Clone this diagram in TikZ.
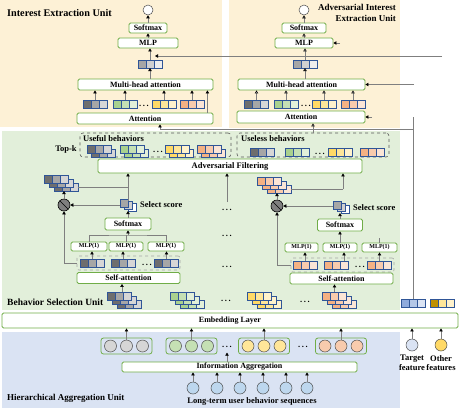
\documentclass[tikz,border=0pt]{standalone}
\usepackage{fontspec}
\setmainfont{Liberation Serif}
\usepackage{tikz}
\usetikzlibrary{arrows.meta, positioning}
\definecolor{Panel_Sand}{HTML}{FDF1D6}
\definecolor{Panel_Sage}{HTML}{E2EFDA}
\definecolor{Panel_Sky}{HTML}{DAE3F3}
\definecolor{Box_Green}{HTML}{70AD47}
\definecolor{Cell_Blue}{HTML}{2F5597}
\definecolor{Line_Gray}{HTML}{7F7F7F}
\definecolor{Dash_Gray}{HTML}{595959}
\definecolor{Gray_A}{HTML}{6E6E6E}
\definecolor{Gray_B}{HTML}{A6A6A6}
\definecolor{Gray_C}{HTML}{D6D6D6}
\definecolor{Mist_B}{HTML}{D0D0D0}
\definecolor{Mist_C}{HTML}{EDEDED}
\definecolor{Leaf_A}{HTML}{A9D18E}
\definecolor{Leaf_B}{HTML}{C5E0B4}
\definecolor{Leaf_C}{HTML}{E2F0D9}
\definecolor{Sun_A}{HTML}{FFD966}
\definecolor{Sun_B}{HTML}{FFE699}
\definecolor{Sun_C}{HTML}{FFF2CC}
\definecolor{Peach_A}{HTML}{F4B183}
\definecolor{Peach_B}{HTML}{F8CBAD}
\definecolor{Peach_C}{HTML}{FBE5D6}
\definecolor{Sky_A}{HTML}{8FAADC}
\definecolor{Sky_B}{HTML}{B4C7E7}
\definecolor{Sky_C}{HTML}{DAE3F3}
\definecolor{Gold_A}{HTML}{BF9000}
\definecolor{Seq_Blue}{HTML}{BDD7EE}

% spaced dots between vectors
\newcommand{\skipdots}{.\hspace{1.6pt}.\hspace{1.6pt}.}
% one embedding vector of three cells, named by its middle cell
\newcommand{\cellrow}[5]{%
  \node[cell, fill=#4] (#1) at (#2) {};
  \node[cell, fill=#3, left=0pt of #1] (#1-a) {};
  \node[cell, fill=#5, right=0pt of #1] (#1-c) {};}
% copies of a vector stacked down to the right
\newcommand{\cellstack}[7]{%
  \foreach \k in {#2,...,0}{%
    \begin{scope}[shift={(#3*\k,4*\k)}]\cellrow{#1-\k}{#4}{#5}{#6}{#7}\end{scope}}}
% select score squares
\newcommand{\scorestack}[2]{%
  \foreach \k/\c in {2/white,1/Mist_B,0/Gray_B}{%
    \begin{scope}[shift={(4*\k,2*\k)}]\node[cell, fill=\c] (#1-\k) at (#2) {};\end{scope}}}
% three balls in a rounded frame
\newcommand{\ballgroup}[3]{%
  \node[pool] (#1) at (#2) {};
  \foreach \dx [count=\i] in {-16,0,16} \node[ball, fill=#3] (#1-\i) at ([xshift=\dx pt]#1.center) {};}

\begin{document}
\begin{tikzpicture}[x=1pt, y=-1pt,
    box/.style={draw=Box_Green, fill=white, line width=0.8pt, rounded corners=1.5pt, inner sep=0pt, font=\bfseries\fontsize{8}{9}\selectfont},
    smallbox/.style={box, font=\bfseries\fontsize{6}{7}\selectfont},
    cell/.style={draw=Cell_Blue, line width=0.6pt, minimum size=8pt, inner sep=0pt, outer sep=0pt},
    wire/.style={draw=Line_Gray, line width=0.6pt},
    arr/.style={wire, -{Triangle[width=3.4pt,length=3pt,color=black]}},
    oarr/.style={wire, -{Triangle[width=3.4pt,length=3pt,color=black,fill=white]}},
    unittitle/.style={font=\bfseries\fontsize{9.5}{11}\selectfont, inner sep=0pt},
    lbl/.style={font=\bfseries\fontsize{8.5}{9.5}\selectfont, inner sep=0pt},
    pickbox/.style={draw=Dash_Gray, dashed, line width=0.6pt, rounded corners=3pt},
    rowbox/.style={draw=Gray_B, dashed, line width=0.6pt, rounded corners=2pt},
    pool/.style={draw=Box_Green, line width=0.8pt, rounded corners=2.5pt, minimum width=51pt, minimum height=16pt},
    ball/.style={circle, draw=black!70, line width=0.5pt, minimum size=12pt, inner sep=0pt},
    mul/.style={circle, draw=black, fill=Line_Gray, line width=0.6pt, minimum size=12pt, inner sep=0pt,
      path picture={\draw[black, line width=0.6pt] (path picture bounding box.north west) -- (path picture bounding box.south east);}}]
    \useasboundingbox (0,0) rectangle (460,408);
    % Unit panels
    \fill[Panel_Sand] (0,0) rectangle (222,127);
    \fill[Panel_Sand] (229,0) rectangle (400,128);
    \fill[Panel_Sage] (2,131) rectangle (400,310);
    \fill[Panel_Sky] (2,332) rectangle (400,408);
    \node[unittitle, anchor=west, font=\bfseries\fontsize{10.2}{12}\selectfont] (ieu-title) at (7,13) {Interest Extraction Unit};
    \node[unittitle, anchor=north east, align=right, font=\bfseries\fontsize{9}{11}\selectfont] (aie-title) at (396,4) {Adversarial Interest\\Extraction Unit};
    \node[unittitle, anchor=west] (bsu-title) at (7,302) {Behavior Selection Unit};
    \node[unittitle, anchor=west, font=\bfseries\fontsize{9}{11}\selectfont] (hau-title) at (7,398) {Hierarchical Aggregation Unit};

    % Interest extraction
    \node[ball, minimum size=10pt, fill=white] (ieu-out) at (148,10) {};
    \node[box, minimum width=38pt, minimum height=10pt] (ieu-soft) at (148,28) {Softmax};
    \node[box, minimum width=60pt, minimum height=10pt] (ieu-mlp) at (148,43) {MLP};
    \cellrow{ieu-h}{150,64}{Gray_B}{Mist_B}{Mist_C}
    \node[box, minimum width=135pt, minimum height=11pt] (ieu-mha) at (145.5,84.5) {Multi-head attention};
    \cellrow{ieu-g}{95,104}{Gray_A}{Gray_B}{Gray_C}
    \cellrow{ieu-l}{125,104}{Leaf_A}{Leaf_B}{Leaf_C}
    \node[lbl] (ieu-dots) at (144,106) {\skipdots};
    \cellrow{ieu-y}{164,104}{Sun_A}{Sun_B}{Sun_C}
    \cellrow{ieu-o}{192,104}{Peach_A}{Peach_B}{Peach_C}
    \node[box, minimum width=136pt, minimum height=11pt] (ieu-att) at (145,118.5) {Attention};
    \draw[arr] (ieu-soft.north) -- (ieu-out.south);
    \draw[arr] (ieu-mlp.north) -- (ieu-soft.south);
    \draw[arr] (ieu-h.north) -- (ieu-h.north |- ieu-mlp.south);
    \draw[arr] (ieu-mha.north -| ieu-h) -- (ieu-h.south);
    \foreach \v in {ieu-g, ieu-l, ieu-y, ieu-o} \draw[arr] (\v.north) -- (\v.north |- ieu-mha.south);
    \draw[arr] ([xshift=-6pt]ieu-att.north east) -- ([xshift=-6pt]ieu-mha.south east);
    \coordinate (oth-in) at (442,56);
    \coordinate (ieu-mlp-in) at (155,56);
    \draw[arr] (oth-in) -- (ieu-mlp-in);

    % Adversarial interest extraction
    \node[ball, minimum size=10pt, fill=white] (aie-out) at (304,10) {};
    \node[box, minimum width=44pt, minimum height=10pt] (aie-soft) at (304,28) {Softmax};
    \node[box, minimum width=58pt, minimum height=10pt] (aie-mlp) at (304,43) {MLP};
    \cellrow{aie-h}{305,64}{Gray_B}{Mist_B}{Mist_C}
    \node[box, minimum width=127pt, minimum height=11pt] (aie-mha) at (301.5,84.5) {Multi-head attention};
    \cellrow{aie-g}{256.5,104}{Gray_A}{Gray_B}{Gray_C}
    \cellrow{aie-l}{286,104}{Leaf_A}{Leaf_B}{Leaf_C}
    \node[lbl] (aie-dots) at (306,106) {\skipdots};
    \cellrow{aie-y}{324,104}{Sun_A}{Sun_B}{Sun_C}
    \cellrow{aie-o}{353,104}{Peach_A}{Peach_B}{Peach_C}
    \node[box, minimum width=128pt, minimum height=12pt] (aie-att) at (301,117) {Attention};
    \draw[oarr] (aie-soft.north) -- (aie-out.south);
    \draw[oarr] (aie-mlp.north) -- (aie-soft.south);
    \draw[oarr] (aie-h.north) -- (aie-h.north |- aie-mlp.south);
    \draw[oarr] (aie-mha.north -| aie-h) -- (aie-h.south);
    \foreach \v in {aie-g, aie-l, aie-y, aie-o} \draw[oarr] (\v.north) -- (\v.north |- aie-mha.south);
    \coordinate (aie-mlp-in) at (340,43);
    \coordinate (aie-att-in) at (372,117);
    \coordinate (aie-mha-in) at (414,84.5);
    \draw[arr] (aie-mlp-in) -- (aie-mlp.east);
    \draw[arr] (aie-att-in) -- (aie-att.east);
    \draw[arr] (aie-mha-in) -- (aie-mha.east);

    % Useful / useless behaviors
    \node[pickbox, minimum width=151pt, minimum height=24pt] (useful) at (155.5,145) {};
    \node[lbl, anchor=west] (useful-lbl) at (83,139) {Useful behaviors};
    \node[lbl] (topk) at (66,149) {Top-k};
    \cellstack{uf-g}{1}{4}{99,149}{Gray_A}{Gray_B}{Gray_C}
    \cellstack{uf-l}{1}{4}{132,149}{Leaf_A}{Leaf_B}{Leaf_C}
    \node[lbl] (uf-dots) at (158,152) {\skipdots};
    \cellstack{uf-y}{1}{4}{177,149}{Sun_A}{Sun_B}{Sun_C}
    \cellstack{uf-o}{1}{4}{209,149}{Peach_A}{Peach_B}{Peach_C}
    \node[pickbox, minimum width=152pt, minimum height=24pt] (useless) at (313,145) {};
    \node[lbl, anchor=west] (useless-lbl) at (241,139) {Useless behaviors};
    \cellrow{ul-g}{262.5,152}{Gray_A}{Gray_B}{Gray_C}
    \cellrow{ul-l}{297,152}{Leaf_A}{Leaf_B}{Leaf_C}
    \node[lbl] (ul-dots) at (320,154) {\skipdots};
    \cellrow{ul-y}{340,152}{Sun_A}{Sun_B}{Sun_C}
    \cellrow{ul-o}{372.5,152}{Peach_A}{Peach_B}{Peach_C}
    \draw[oarr] (useless.north) -- (useless.north |- aie-att.south);
    \node[box, minimum width=264pt, minimum height=14pt, font=\bfseries\fontsize{8.5}{10}\selectfont] (af) at (230,166) {Adversarial Filtering};

    % Behavior selection, left column
    \cellstack{bsl-w}{2}{5}{56,179}{Gray_A}{Gray_B}{Gray_C}
    \node[mul] (bsl-mul) at (64,205) {};
    \scorestack{bsl-sc}{124,203}
    \node[lbl, anchor=west] (bsl-sc-lbl) at (140,205) {Select score};
    \node[box, minimum width=46pt, minimum height=12pt] (bsl-soft) at (128,224) {Softmax};
    \node[smallbox, minimum width=36pt, minimum height=9pt] (bsl-m1) at (89,246.5) {MLP(1)};
    \node[smallbox, minimum width=34pt, minimum height=9pt] (bsl-m2) at (126,246.5) {MLP(1)};
    \node[smallbox, minimum width=36pt, minimum height=9pt] (bsl-m3) at (166,246.5) {MLP(1)};
    \node[rowbox, minimum width=103pt, minimum height=14pt] (bsl-row) at (128.5,263) {};
    \cellrow{bsl-v1}{92,263}{Gray_A}{Gray_B}{Gray_C}
    \cellrow{bsl-v2}{123,263}{Gray_A}{Gray_B}{Gray_C}
    \node[lbl] (bsl-dots) at (147,265) {\skipdots};
    \cellrow{bsl-v3}{166.5,263}{Gray_A}{Gray_B}{Gray_C}
    \node[box, minimum width=103pt, minimum height=11pt] (bsl-sa) at (128.5,278) {Self-attention};
    \coordinate (bsl-join) at (128,235);
    \foreach \i in {1,2,3} \draw[arr] (bsl-v\i.north) -- (bsl-v\i.north |- bsl-m\i.south);
    \draw[wire] (bsl-m1.north) |- (bsl-join) -| (bsl-m3.north);
    \draw[wire] (bsl-m2.north) -- (bsl-m2.north |- bsl-join);
    \draw[arr] (bsl-join) -- (bsl-soft.south);
    \draw[arr] (bsl-soft.north) -- (bsl-soft.north |- bsl-sc-2.south);
    \draw[arr] (bsl-sc-0.west |- bsl-mul) -- (bsl-mul);
    \draw[arr] (bsl-row.west) -| (bsl-mul.south);
    \draw[arr] (bsl-mul.north) -- (bsl-mul.north |- bsl-w-2.south);
    \draw[arr] (bsl-sc-1.north) -- (bsl-sc-1.north |- af.south);
    \draw[wire] (bsl-w-2-c.east) -- (bsl-w-2-c.east -| bsl-sc-1.north);

    % Behavior selection, right column
    \cellstack{bsr-w}{2}{5}{269,181}{Peach_A}{Peach_B}{Peach_C}
    \node[mul] (bsr-mul) at (277,206) {};
    \scorestack{bsr-sc}{337,205}
    \node[lbl, anchor=west] (bsr-sc-lbl) at (353,208) {Select score};
    \node[box, minimum width=45pt, minimum height=12pt] (bsr-soft) at (340,225) {Softmax};
    \node[smallbox, minimum width=33pt, minimum height=9pt] (bsr-m1) at (301.5,247.5) {MLP(1)};
    \node[smallbox, minimum width=34pt, minimum height=9pt] (bsr-m2) at (340,247.5) {MLP(1)};
    \node[smallbox, minimum width=35pt, minimum height=9pt] (bsr-m3) at (379.5,247.5) {MLP(1)};
    \node[rowbox, minimum width=103pt, minimum height=14pt] (bsr-row) at (342.5,265) {};
    \cellrow{bsr-v1}{305,265}{Peach_A}{Peach_B}{Peach_C}
    \cellrow{bsr-v2}{336,265}{Peach_A}{Peach_B}{Peach_C}
    \node[lbl] (bsr-dots) at (360,267) {\skipdots};
    \cellrow{bsr-v3}{379.5,265}{Peach_A}{Peach_B}{Peach_C}
    \node[box, minimum width=103pt, minimum height=11pt] (bsr-sa) at (341.5,278.5) {Self-attention};
    \coordinate (bsr-stub) at (379.5,238);
    \coordinate (bsr-join) at (343,189);
    \draw[arr] (bsr-v1.north) -- (bsr-v1.north |- bsr-m1.south);
    \draw[arr] (bsr-v2-c.north) -- (bsr-v2-c.north |- bsr-m2.south);
    \draw[arr] (bsr-v3.north) -- (bsr-v3.north |- bsr-m3.south);
    \draw[arr] (bsr-m2.north) -- (bsr-soft.south);
    \draw[wire] (bsr-m3.north) -- (bsr-stub);
    \draw[arr] (bsr-soft.north) -- (bsr-soft.north |- bsr-sc-2.south);
    \draw[arr] (bsr-sc-0.west |- bsr-mul) -- (bsr-mul);
    \draw[arr] (bsr-row.west) -| (bsr-mul.south);
    \draw[arr] (bsr-mul.north) -- (bsr-mul.north |- bsr-w-2.south);
    \draw[wire] (bsr-w-2-c.east) -- (bsr-join);
    \draw[arr] (bsr-join) -- (bsr-join |- af.south);

    % Middle columns left out
    \coordinate (mid-up) at (227,202);
    \draw[arr] (mid-up) -- (mid-up |- af.south);
    \foreach \y in {210,236,267} \node[lbl] (mid-d\y) at (227,\y) {\skipdots};

    % Behavior inputs
    \cellstack{in-g}{2}{5}{119,296}{Gray_A}{Gray_B}{Gray_C}
    \cellstack{in-l}{2}{5}{182.5,296}{Leaf_A}{Leaf_B}{Leaf_C}
    \node[lbl] (in-dots1) at (226,301) {\skipdots};
    \cellstack{in-y}{2}{5}{259.5,296}{Sun_A}{Sun_B}{Sun_C}
    \node[lbl] (in-dots2) at (305,302) {\skipdots};
    \cellstack{in-o}{2}{5}{334.5,296}{Peach_A}{Peach_B}{Peach_C}
    \draw[arr] ([xshift=3pt]in-g-0.north) -- ([xshift=3pt]in-g-0.north |- bsl-sa.south);
    \draw[arr] (in-o-0.north) -- (in-o-0.north |- bsr-sa.south);
    \cellrow{tgt-v}{413,303}{Sky_A}{Sky_B}{Sky_C}
    \cellrow{oth-v}{442,303}{Gold_A}{Sun_B}{Sun_C}

    % Target feature line
    \coordinate (tgt-top) at (413,117);
    \coordinate (tgt-turn) at (413,129);
    \coordinate (ieu-att-in) at (160,129);
    \draw[wire] (tgt-v.north) -- (tgt-top);
    \draw[arr] (tgt-turn) -- (ieu-att-in) -- (ieu-att-in |- ieu-att.south);

    % Embedding layer
    \node[box, minimum width=456pt, minimum height=15pt] (emb) at (230,320.5) {Embedding Layer};

    % Hierarchical aggregation
    \ballgroup{hau-g}{126.5,346}{Gray_C}
    \ballgroup{hau-l}{191.5,346}{Leaf_B}
    \node[lbl] (hau-dots1) at (227,347) {\skipdots};
    \ballgroup{hau-y}{264,346}{Sun_B}
    \node[lbl] (hau-dots2) at (303,347) {\skipdots};
    \ballgroup{hau-o}{341,346}{Peach_B}
    \foreach \g in {hau-g, hau-l, hau-y, hau-o} \draw[arr] (\g-2.north) -- (\g-2.north |- emb.south);
    \node[ball, fill=Sky_C] (tgt-c) at (412,345) {};
    \node[ball, fill=Sun_A] (oth-c) at (441,345) {};
    \node[lbl, align=center] (tgt-lbl) at (412,363) {Target\\feature};
    \node[lbl, align=center] (oth-lbl) at (441,363) {Other\\features};
    \draw[arr] (tgt-c.north) -- (tgt-c.north |- emb.south);
    \draw[arr] (oth-c.north) -- (oth-c.north |- emb.south);
    \node[box, minimum width=235pt, minimum height=10pt] (ia) at (239.5,367) {Information Aggregation};
    \draw[arr] (ia.north -| mid-up) -- ++(0,-9);
    \foreach \x [count=\i] in {193,217,240,263,286,307} \node[ball, fill=Seq_Blue] (seq\i) at (\x,388) {};
    \foreach \i in {1,...,6} \draw[arr] (seq\i.north) -- (seq\i.north |- ia.south);
    \node[lbl] (seq-lbl) at (252,401) {Long-term user behavior sequences};
\end{tikzpicture}
\end{document}
